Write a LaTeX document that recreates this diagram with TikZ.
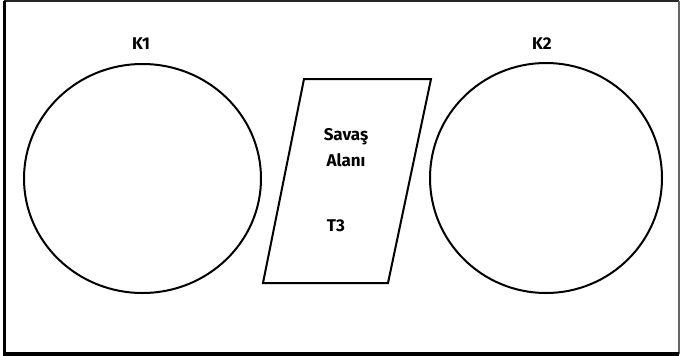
\documentclass[tikz,border=0pt]{standalone}
\usepackage{fontspec}
\setmainfont{Fira Sans}
\usetikzlibrary{shapes.geometric}
\begin{document}
\begin{tikzpicture}[x=1pt,y=-1pt,
  shapeline/.style={draw=black,line width=2pt},
  lbl/.style={font=\bfseries\fontsize{17}{26}\selectfont,inner sep=0pt,align=center}]
\useasboundingbox (0,0) rectangle (680,356);
\fill[white] (0,0) rectangle (680,356);
\coordinate (b1) at (4.3,1.2);
\coordinate (b2) at (679,1.2);
\coordinate (b3) at (679,354.2);
\coordinate (b4) at (4.3,354.2);
\draw[line width=2.4pt,black!85] (b1) -- (b2);
\draw[line width=1.2pt,black!60] (b2) -- (b3);
\draw[line width=3.6pt] (b3) -- (b4) -- (b1);
\node[shapeline,ellipse,minimum width=237pt,minimum height=229pt,inner sep=0pt] (k1) at (142.5,178.5) {};
\node[shapeline,ellipse,minimum width=232pt,minimum height=230pt,inner sep=0pt] (k2) at (546,178) {};
\coordinate (p1) at (304,79);
\coordinate (p2) at (431,79);
\coordinate (p3) at (388,283);
\coordinate (p4) at (263,283);
\draw[shapeline,line join=miter] (p1) -- (p2) -- (p3) -- (p4) -- cycle;
\node[lbl] (lk1) at (141,44) {K1};
\node[lbl] (lk2) at (542,44) {K2};
\node[lbl] (sa) at (346,148) {Savaş\\Alanı};
\node[lbl] (t3) at (336,226) {T3};
\end{tikzpicture}
\end{document}
